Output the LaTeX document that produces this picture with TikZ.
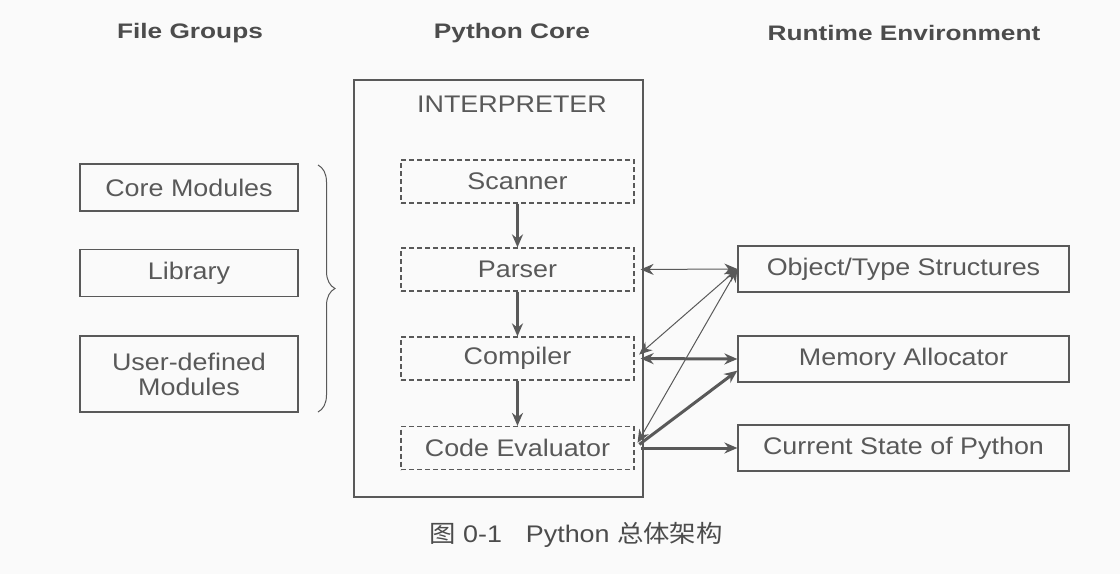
\documentclass[tikz,border=0pt]{standalone}
\usepackage{fontspec}
\setmainfont[FakeStretch=1.12]{Liberation Sans}
\newfontfamily\headfont[FakeStretch=1.25]{Liberation Sans}
\newfontfamily\cjk[FakeStretch=1.1]{Noto Sans CJK SC}
\usetikzlibrary{decorations.pathreplacing,arrows.meta}
\begin{document}
\begin{tikzpicture}[
    x=1pt,y=-1pt,
    ink/.style={draw=black!65},
    label/.style={align=center,inner sep=0pt,text=black!65,
        font=\fontsize{24}{28}\selectfont},
    box/.style={label,ink,line width=1.2pt},
    stage/.style={box,dashed,dash pattern=on 5pt off 3pt,minimum width=233,minimum height=43},
    filebox/.style={box,minimum width=218,minimum height=47},
    envbox/.style={box,minimum width=331,minimum height=46},
    head/.style={text=black!70,font=\headfont\bfseries\fontsize{21}{25}\selectfont},
    weak/.style={ink,line width=1pt,<->},
    strong/.style={ink,line width=3pt},
    >={Stealth[length=13pt,width=11pt]}
]
\fill[black!2] (0,0) rectangle (1120,574);
\useasboundingbox (0,0) rectangle (1120,574);

\node[head] (hfiles) at (190,33) {File Groups};
\node[head] (hcore) at (512,33) {Python Core};
\node[head] (henv) at (904,33) {Runtime Environment};

\node[filebox] (coremod) at (189,187.5) {Core Modules};
\node[filebox] (lib) at (189,273) {Library};
\node[filebox,minimum height=76] (usermod) at (189,374) {User-defined\\[-3pt]Modules};
\draw[ink,line width=1pt,decorate,decoration={brace,amplitude=17pt}]
    (318,165) -- (318,412);

\node[box,minimum width=289,minimum height=417] (core) at (498.5,288.5) {};
\node[label] (interp) at (512,104) {INTERPRETER};

\node[stage] (scanner) at (517.5,181.5) {Scanner};
\node[stage] (parser) at (517.5,269.5) {Parser};
\node[stage] (compiler) at (517.5,358.5) {Compiler};
\node[stage] (evaluator) at (517.5,448) {Code Evaluator};

\node[envbox] (objtype) at (903.5,269) {Object/Type Structures};
\node[envbox] (memory) at (903.5,359) {Memory Allocator};
\node[envbox] (state) at (903.5,448) {Current State of Python};

\draw[->,strong] (scanner)--(parser);
\draw[->,strong] (parser)--(compiler);
\draw[->,strong] (compiler)--(evaluator);

\draw[weak,shorten <=6pt] (parser.east)--(objtype.west);
\draw[weak,shorten <=6pt] (compiler.east)--(objtype.west);
\draw[weak,shorten <=6pt] (evaluator.east)--(objtype.west);
\draw[<->,strong,shorten <=6pt] (compiler.east)--(memory.west);
\draw[->,strong,shorten <=6pt] (evaluator.east)--(memory.184);
\draw[->,strong,shorten <=6pt] (evaluator.east)--(state.west);

\node[text=black!70,font=\fontsize{24}{28}\selectfont] (caption) at (576,535)
    {{\cjk 图} 0-1\quad Python {\cjk 总体架构}};
\end{tikzpicture}
\end{document}
